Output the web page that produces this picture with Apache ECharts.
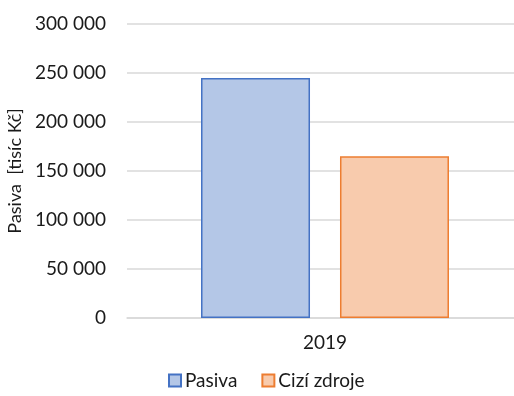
<!DOCTYPE html>
<html>
<head>
<meta charset="utf-8">
<script src="https://cdn.jsdelivr.net/npm/echarts@6/dist/echarts.min.js"></script>
<style>
  html, body { margin: 0; padding: 0; background: #fff; }
  #chart { width: 514px; height: 396px; }
</style>
</head>
<body>
<div id="chart"></div>
<script>
// Liabilities for 2019, thousands of CZK
const categories = ['2019'];
const seriesNames = ['Pasiva', 'Cizí zdroje'];
const pasiva = [245000];
const ciziZdroje = [165000];
const yTicks = [0, 50000, 100000, 150000, 200000, 250000, 300000];

const FONT = 'Lato';
const TEXT = '#1a1a1a';

function groupThousands(v) {
  return String(v).replace(/\B(?=(\d{3})+(?!\d))/g, ' ');
}

const chart = echarts.init(document.getElementById('chart'), null, { renderer: 'canvas' });
chart.setOption({
  animation: false,
  textStyle: { fontFamily: FONT },
  grid: { left: 127, width: 396, top: 24, bottom: 78, outerBoundsMode: 'none', containLabel: false },
  legend: {
    data: seriesNames,
    bottom: 1,
    left: 163,
    itemWidth: 12,
    itemHeight: 12,
    itemGap: 24,
    icon: 'rect',
    textStyle: { fontFamily: FONT, fontSize: 19, color: TEXT, padding: [0, 0, 0, -1] }
  },
  xAxis: {
    type: 'category',
    data: categories,
    axisLine: { lineStyle: { color: '#d9d9d9', width: 1.5 } },
    axisTick: { show: false },
    axisLabel: { fontFamily: FONT, fontSize: 19, color: TEXT, margin: 15 }
  },
  yAxis: {
    type: 'value',
    min: yTicks[0],
    max: yTicks[yTicks.length - 1],
    interval: yTicks[1] - yTicks[0],
    name: 'Pasiva  [tisíc Kč]',
    nameLocation: 'middle',
    nameGap: 98,
    nameTextStyle: { fontFamily: FONT, fontSize: 18, color: TEXT },
    axisLine: { show: false },
    axisTick: { show: false },
    splitLine: { lineStyle: { color: '#d9d9d9', width: 1.5 } },
    axisLabel: {
      fontFamily: FONT, fontSize: 19, color: TEXT, margin: 21,
      formatter: groupThousands
    }
  },
  series: [
    {
      name: seriesNames[0],
      type: 'bar',
      data: pasiva,
      barWidth: 109,
      barGap: '27.5%',
      itemStyle: { color: '#b4c7e7', borderColor: '#4472c4', borderWidth: 1.5 }
    },
    {
      name: seriesNames[1],
      type: 'bar',
      data: ciziZdroje,
      barWidth: 109,
      barGap: '27.5%',
      itemStyle: { color: '#f8cbad', borderColor: '#ed7d31', borderWidth: 1.5 }
    }
  ]
});
</script>
</body>
</html>
